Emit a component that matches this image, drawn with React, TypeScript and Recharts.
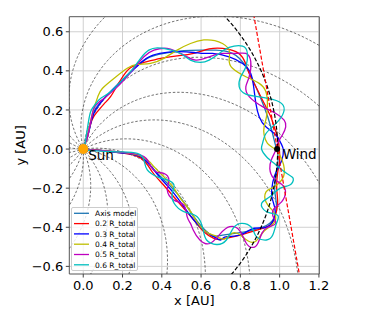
import React from 'react';
import { LineChart, Line, XAxis, YAxis, CartesianGrid, ReferenceDot, ReferenceArea } from 'recharts';

type P = { x: number; y: number };
const toPts = (a: number[][]): P[] => a.map(([x, y]) => ({ x, y }));

const xTicks = [0, 0.2, 0.4, 0.6, 0.8, 1.0, 1.2];
const yTicks = [-0.6, -0.4, -0.2, 0, 0.2, 0.4, 0.6];
const xDomain: [number, number] = [-0.071, 1.202];
const yDomain: [number, number] = [-0.639, 0.677];

const axisModel = [
  [0.008, 0.029], [0.02, 0.055], [0.042, 0.148], [0.063, 0.208], [0.131, 0.285], [0.198, 0.353], [0.258, 0.412],
  [0.326, 0.464], [0.411, 0.489], [0.512, 0.503], [0.614, 0.506], [0.675, 0.506], [0.76, 0.489], [0.828, 0.421],
  [0.879, 0.319], [0.921, 0.216], [0.955, 0.114], [0.981, 0.012], [0.992, -0.039], [0.984, -0.124], [0.975, -0.21],
  [0.984, -0.295], [0.95, -0.38], [0.848, -0.418], [0.746, -0.435], [0.679, -0.445], [0.648, -0.44], [0.611, -0.405],
  [0.563, -0.346], [0.478, -0.227], [0.377, -0.124], [0.292, -0.039], [0.221, -0.022], [0.173, -0.014], [0.051, -0.005],
  [0.017, -0.002],
];

const r02 = [
  [0.008, 0.03], [0.024, 0.08], [0.045, 0.15], [0.071, 0.19], [0.105, 0.23], [0.139, 0.268], [0.17, 0.32], [0.19, 0.353],
  [0.237, 0.413], [0.309, 0.443], [0.394, 0.464], [0.478, 0.477], [0.563, 0.49], [0.641, 0.512], [0.709, 0.515],
  [0.777, 0.498], [0.819, 0.455], [0.845, 0.387], [0.879, 0.319], [0.921, 0.234], [0.955, 0.165], [0.972, 0.114],
  [0.989, 0.063], [0.998, 0.003], [1.0, -0.06], [0.99, -0.12], [0.985, -0.2], [0.99, -0.28], [0.975, -0.35],
  [0.95, -0.39], [0.9, -0.41], [0.85, -0.425], [0.8, -0.44], [0.75, -0.452], [0.699, -0.462], [0.665, -0.457],
  [0.614, -0.423], [0.563, -0.363], [0.512, -0.303], [0.453, -0.235], [0.402, -0.176], [0.351, -0.116],
  [0.292, -0.045], [0.19, -0.019], [0.1, -0.008], [0.02, -0.003],
];

const r03 = [
  [0.008, 0.03], [0.02, 0.055], [0.04, 0.14], [0.063, 0.2], [0.115, 0.268], [0.183, 0.336], [0.254, 0.404],
  [0.322, 0.464], [0.39, 0.489], [0.478, 0.498], [0.563, 0.494], [0.614, 0.489], [0.658, 0.489], [0.743, 0.472],
  [0.811, 0.438], [0.853, 0.387], [0.87, 0.302], [0.879, 0.234], [0.896, 0.165], [0.93, 0.114], [0.981, 0.072],
  [1.007, 0.029], [1.019, -0.005], [1.01, -0.06], [0.985, -0.11], [0.965, -0.17], [0.96, -0.24], [0.975, -0.3],
  [0.97, -0.36], [0.93, -0.4], [0.87, -0.405], [0.82, -0.43], [0.77, -0.445], [0.72, -0.45], [0.699, -0.465],
  [0.665, -0.448], [0.614, -0.414], [0.563, -0.363], [0.512, -0.295], [0.462, -0.227], [0.41, -0.167],
  [0.36, -0.107], [0.292, -0.039], [0.19, -0.019], [0.1, -0.008], [0.02, -0.003],
];

const r04 = [
  [0.008, 0.03], [0.02, 0.055], [0.035, 0.13], [0.054, 0.208], [0.075, 0.27], [0.097, 0.31], [0.156, 0.361],
  [0.224, 0.413], [0.275, 0.433], [0.343, 0.438], [0.41, 0.464], [0.478, 0.506], [0.546, 0.54], [0.614, 0.558],
  [0.67, 0.555], [0.709, 0.54], [0.743, 0.506], [0.743, 0.455], [0.76, 0.413], [0.828, 0.37], [0.896, 0.336],
  [0.93, 0.293], [0.938, 0.234], [0.933, 0.165], [0.921, 0.114], [0.921, 0.072], [0.938, 0.029], [0.972, 0.003],
  [1.0, -0.03], [1.02, -0.08], [1.02, -0.14], [0.99, -0.18], [0.96, -0.2], [0.93, -0.22], [0.93, -0.27],
  [0.96, -0.31], [0.98, -0.35], [0.96, -0.39], [0.92, -0.42], [0.88, -0.47], [0.84, -0.47], [0.8, -0.44],
  [0.76, -0.43], [0.72, -0.46], [0.682, -0.448], [0.639, -0.431], [0.597, -0.397], [0.563, -0.346],
  [0.529, -0.295], [0.495, -0.252], [0.462, -0.201], [0.41, -0.142], [0.36, -0.09], [0.292, -0.035],
  [0.17, -0.014], [0.1, -0.008], [0.02, -0.003],
];

const r05 = [
  [0.008, 0.03], [0.02, 0.055], [0.038, 0.14], [0.054, 0.208], [0.08, 0.24], [0.105, 0.259], [0.156, 0.302],
  [0.207, 0.353], [0.258, 0.413], [0.309, 0.472], [0.36, 0.506], [0.427, 0.515], [0.47, 0.5], [0.512, 0.481],
  [0.573, 0.455], [0.641, 0.472], [0.709, 0.489], [0.777, 0.489], [0.828, 0.489], [0.853, 0.447], [0.845, 0.37],
  [0.828, 0.319], [0.845, 0.268], [0.913, 0.217], [0.981, 0.182], [1.023, 0.148], [1.031, 0.114], [1.014, 0.072],
  [0.989, 0.029], [0.98, -0.005], [0.96, -0.05], [0.95, -0.1], [0.97, -0.15], [1.01, -0.18], [1.03, -0.22],
  [1.01, -0.27], [0.975, -0.3], [0.965, -0.34], [0.98, -0.38], [0.94, -0.4], [0.91, -0.43], [0.89, -0.48],
  [0.865, -0.503], [0.831, -0.483], [0.797, -0.418], [0.746, -0.397], [0.696, -0.435], [0.645, -0.483],
  [0.594, -0.465], [0.56, -0.414], [0.546, -0.38], [0.529, -0.346], [0.512, -0.286], [0.462, -0.261],
  [0.428, -0.21], [0.436, -0.158], [0.41, -0.124], [0.368, -0.116], [0.336, -0.073], [0.292, -0.031],
  [0.173, -0.014], [0.1, -0.008], [0.02, -0.003],
];

const r06 = [
  [0.008, 0.03], [0.012, 0.046], [0.03, 0.16], [0.046, 0.208], [0.07, 0.24], [0.088, 0.259], [0.139, 0.293],
  [0.19, 0.344], [0.241, 0.396], [0.292, 0.464], [0.334, 0.506], [0.377, 0.518], [0.427, 0.511], [0.495, 0.489],
  [0.546, 0.455], [0.597, 0.443], [0.641, 0.455], [0.692, 0.489], [0.743, 0.52], [0.811, 0.527], [0.836, 0.489],
  [0.828, 0.421], [0.802, 0.37], [0.794, 0.319], [0.828, 0.281], [0.913, 0.264], [0.997, 0.242], [1.023, 0.2],
  [0.997, 0.148], [0.96, 0.111], [0.926, 0.072], [0.913, 0.029], [0.908, 0.0], [0.933, -0.039], [0.98, -0.08],
  [1.035, -0.124], [1.069, -0.15], [1.052, -0.184], [1.001, -0.201], [0.95, -0.244], [0.908, -0.278],
  [0.933, -0.32], [0.99, -0.338], [0.984, -0.38], [0.965, -0.44], [0.933, -0.465], [0.882, -0.448],
  [0.857, -0.401], [0.806, -0.38], [0.763, -0.406], [0.729, -0.465], [0.679, -0.488], [0.628, -0.465],
  [0.611, -0.414], [0.58, -0.346], [0.512, -0.32], [0.462, -0.276], [0.453, -0.227], [0.462, -0.184],
  [0.428, -0.158], [0.377, -0.142], [0.326, -0.107], [0.309, -0.056], [0.275, -0.022], [0.173, -0.014],
  [0.02, -0.005],
];

// Parker spiral guides: start angles (deg) and spiral scale (AU per radian)
const spiralStartDeg = [8, 27, 46, 65, 84, 103, 122, 141, 160, 179, 198, 217, 236, 255, 274, 293, 312, 331, 350];
const spiralScale = 0.95;
const orbitRadius = 0.99;
const windPos = { x: 0.987, y: 0 };
const sunPos = { x: 0, y: 0 };
const redLine = [[0.857, 0.75], [1.111, -0.7]];

const spirals: P[][] = spiralStartDeg.map((d) => {
  const out: P[] = [];
  for (let i = 0; i <= 200; i++) {
    const r = 0.02 + i * 0.01;
    const phi = (d * Math.PI) / 180 - r / spiralScale;
    out.push({ x: r * Math.cos(phi), y: r * Math.sin(phi) });
  }
  return out;
});
const orbit: P[] = [];
for (let i = 0; i <= 180; i++) {
  const t = (i * Math.PI) / 180 - Math.PI / 2;
  orbit.push({ x: orbitRadius * Math.cos(t), y: orbitRadius * Math.sin(t) });
}

const series = [
  { name: 'Axis model', color: '#1f77b4', data: toPts(axisModel) },
  { name: '0.2 R_total', color: '#ff0000', data: toPts(r02) },
  { name: '0.3 R_total', color: '#0000ff', data: toPts(r03) },
  { name: '0.4 R_total', color: '#bfbf00', data: toPts(r04) },
  { name: '0.5 R_total', color: '#bf00bf', data: toPts(r05) },
  { name: '0.6 R_total', color: '#00bfbf', data: toPts(r06) },
];

const FONT = '"DejaVu Sans", sans-serif';
const fmt = (v: number) => (v < 0 ? '\u2212' : '') + Math.abs(v).toFixed(1);

export default function App() {
  return (
    <div style={{ position: 'absolute', left: 0, top: 0, width: 374, height: 312, background: '#fff', fontFamily: FONT }}>
      <LineChart width={374} height={312} margin={{ top: 16.7, right: 54.7, bottom: 8, left: 9.3 }}>
        <CartesianGrid stroke="#d0d0d0" strokeWidth={1} horizontalValues={yTicks} verticalValues={xTicks} />
        <XAxis
          type="number"
          dataKey="x"
          domain={xDomain}
          ticks={xTicks}
          allowDataOverflow
          height={30}
          tickFormatter={fmt}
          tickSize={3.5}
          tickMargin={3}
          axisLine={false}
          tickLine={{ stroke: '#444' }}
          tick={{ fontSize: 13, fill: '#000', fontFamily: FONT }}
          label={{
            content: (p: any) => (
              <text x={p.viewBox.x + p.viewBox.width / 2} y={p.viewBox.y + 31} textAnchor="middle" fontSize={13} fontFamily={FONT} fill="#000">
                x [AU]
              </text>
            ),
          }}
        />
        <YAxis
          type="number"
          dataKey="y"
          domain={yDomain}
          ticks={yTicks}
          allowDataOverflow
          width={60}
          tickFormatter={fmt}
          tickSize={3.5}
          tickMargin={2.5}
          axisLine={false}
          tickLine={{ stroke: '#444' }}
          tick={{ fontSize: 13, fill: '#000', fontFamily: FONT }}
          label={{
            content: (p: any) => {
              const cx = p.viewBox.x + 15.7;
              const cy = p.viewBox.y + p.viewBox.height / 2;
              return (
                <text x={cx} y={cy} transform={`rotate(-90 ${cx} ${cy})`} textAnchor="middle" fontSize={13} fontFamily={FONT} fill="#000">
                  y [AU]
                </text>
              );
            },
          }}
        />
        {spirals.map((s, i) => (
          <Line key={'sp' + i} data={s} dataKey="y" type="linear" stroke="#333" strokeWidth={0.7} strokeDasharray="2.5 1.8" dot={false} activeDot={false} isAnimationActive={false} />
        ))}
        {series.map((s) => (
          <Line key={s.name} data={s.data} dataKey="y" name={s.name} type="natural" stroke={s.color} strokeWidth={1.3} dot={false} activeDot={false} isAnimationActive={false} />
        ))}
        <Line data={orbit} dataKey="y" type="linear" stroke="#000" strokeWidth={1.2} strokeDasharray="4 2" dot={false} activeDot={false} isAnimationActive={false} />
        <Line data={toPts(redLine)} dataKey="y" type="linear" stroke="#ff0000" strokeWidth={1.2} strokeDasharray="4 2" dot={false} activeDot={false} isAnimationActive={false} />
        <ReferenceArea x1={xDomain[0]} x2={xDomain[1]} y1={yDomain[0]} y2={yDomain[1]} fill="none" stroke="#555" strokeWidth={1} />
        <ReferenceDot
          x={sunPos.x}
          y={sunPos.y}
          r={5}
          shape={(p: any) => (
            <g>
              <circle cx={p.cx} cy={p.cy} r={5} fill="#ffa500" />
              <text x={p.cx + 5} y={p.cy + 11} fontSize={13.5} fontFamily={FONT} fill="#000">Sun</text>
            </g>
          )}
        />
        <ReferenceDot
          x={windPos.x}
          y={windPos.y}
          r={3}
          shape={(p: any) => (
            <g>
              <circle cx={p.cx} cy={p.cy} r={3} fill="#000" />
              <text x={p.cx + 5.7} y={p.cy + 10.3} fontSize={13.5} fontFamily={FONT} fill="#000">Wind</text>
            </g>
          )}
        />
      </LineChart>
      <div
        style={{
          position: 'absolute',
          left: 71,
          top: 206.5,
          width: 67,
          height: 64,
          boxSizing: 'border-box',
          background: 'rgba(255,255,255,0.8)',
          border: '1px solid #cccccc',
          borderRadius: 2,
        }}
      >
        <svg width={65} height={62} style={{ position: 'absolute', left: 0, top: 0 }}>
          {series.map((s, i) => (
            <g key={s.name}>
              <line x1={2} x2={17} y1={5.3 + i * 10.3} y2={5.3 + i * 10.3} stroke={s.color} strokeWidth={1.3} />
              <text x={23} y={8 + i * 10.3} fontSize={7.5} fontFamily={FONT} fill="#000">
                {s.name}
              </text>
            </g>
          ))}
        </svg>
      </div>
    </div>
  );
}
